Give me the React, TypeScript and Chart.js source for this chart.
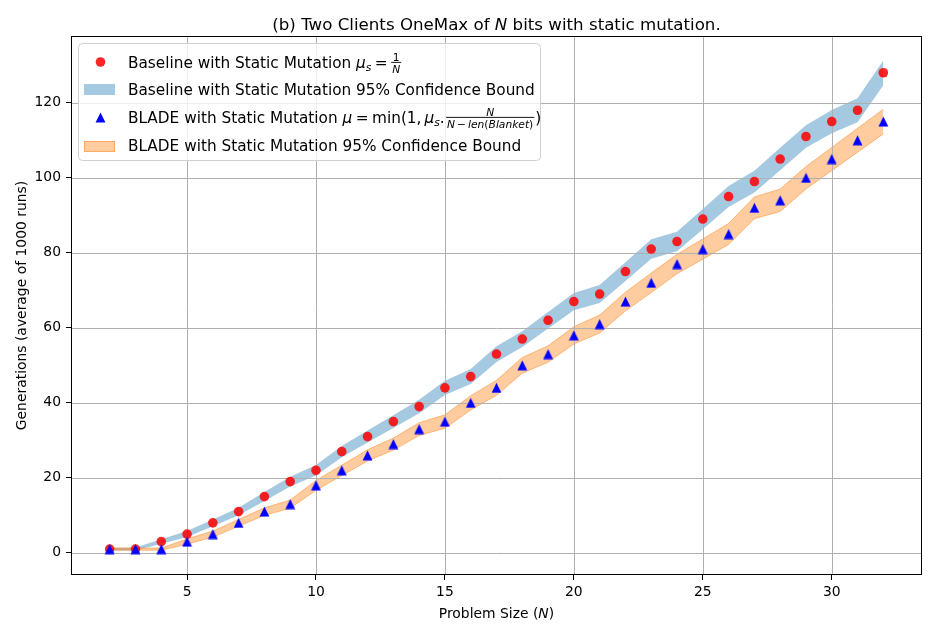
import React, { useEffect, useRef } from "react";
import { Chart, registerables } from "chart.js";

Chart.register(...registerables);

// ---------------- data ----------------
const problemSize = [2, 3, 4, 5, 6, 7, 8, 9, 10, 11, 12, 13, 14, 15, 16, 17, 18, 19, 20, 21, 22, 23, 24, 25, 26, 27, 28, 29, 30, 31, 32];

const baselineMean = [1, 1, 3, 5, 8, 11, 15, 19, 22, 27, 31, 35, 39, 44, 47, 53, 57, 62, 67, 69, 75, 81, 83, 89, 95, 99, 105, 111, 115, 118, 128];
const baselineLower = [0.7, 0.6, 2.4, 4.2, 7.1, 10.0, 13.8, 17.7, 20.6, 25.5, 29.4, 33.3, 37.2, 42.1, 45.0, 50.9, 54.9, 59.8, 64.7, 66.6, 72.5, 78.4, 80.4, 86.3, 92.2, 96.1, 102.0, 108.0, 111.9, 114.8, 124.7];
const baselineUpper = [1.3, 1.4, 3.6, 5.8, 8.9, 12.0, 16.2, 20.3, 23.4, 28.5, 32.6, 36.7, 40.8, 45.9, 49.0, 55.1, 59.1, 64.2, 69.3, 71.4, 77.5, 83.6, 85.6, 91.7, 97.8, 101.9, 108.0, 114.0, 118.1, 121.2, 131.3];

const bladeMean = [1, 1, 1, 3, 5, 8, 11, 13, 18, 22, 26, 29, 33, 35, 40, 44, 50, 53, 58, 61, 67, 72, 77, 81, 85, 92, 94, 100, 105, 110, 115];
const bladeLower = [0.7, 0.7, 0.7, 2.3, 4.2, 7.1, 10.0, 11.9, 16.7, 20.6, 24.5, 27.4, 31.3, 33.2, 38.1, 42.0, 47.9, 50.8, 55.7, 58.6, 64.5, 69.4, 74.4, 78.3, 82.2, 89.1, 91.0, 97.0, 101.9, 106.8, 111.7];
const bladeUpper = [1.3, 1.3, 1.3, 3.7, 5.8, 8.9, 12.0, 14.1, 19.3, 23.4, 27.5, 30.6, 34.7, 36.8, 41.9, 46.0, 52.1, 55.2, 60.3, 63.4, 69.5, 74.6, 79.6, 83.7, 87.8, 94.9, 97.0, 103.0, 108.1, 113.2, 118.3];

const xTicks = [5, 10, 15, 20, 25, 30];
const yTicks = [0, 20, 40, 60, 80, 100, 120];

// ---------------- styles ----------------
const FONT = "'DejaVu Sans', sans-serif";
const RED = "rgba(255,0,0,0.85)";
const BLUE_MARK = "#0000ff";
const BLUE_BAND = "rgba(31,119,180,0.4)";
const ORANGE_BAND = "rgba(255,127,14,0.4)";
const ORANGE_EDGE = "rgba(255,127,14,0.45)";
const GRID = "#b0b0b0";

type Seg = { t?: string; it?: boolean; sz?: number; dy?: number; gap?: number };

function fontOf(s: Seg, base: number) {
  return `${s.it ? "italic " : ""}${s.sz ?? base}px ${FONT}`;
}
function segsWidth(ctx: CanvasRenderingContext2D, segs: Seg[], base: number) {
  let w = 0;
  for (const s of segs) {
    if (s.gap) w += s.gap;
    if (s.t) {
      ctx.font = fontOf(s, base);
      w += ctx.measureText(s.t).width;
    }
  }
  return w;
}
function drawSegs(ctx: CanvasRenderingContext2D, segs: Seg[], x: number, y: number, base: number) {
  ctx.textAlign = "left";
  ctx.textBaseline = "alphabetic";
  for (const s of segs) {
    if (s.gap) x += s.gap;
    if (s.t) {
      ctx.font = fontOf(s, base);
      ctx.fillText(s.t, x, y + (s.dy ?? 0));
      x += ctx.measureText(s.t).width;
    }
  }
  return x;
}
function drawFrac(ctx: CanvasRenderingContext2D, num: Seg[], den: Seg[], x: number, y: number, sz: number) {
  const nw = segsWidth(ctx, num, sz);
  const dw = segsWidth(ctx, den, sz);
  const w = Math.max(nw, dw) + 2;
  drawSegs(ctx, num, x + (w - nw) / 2, y - 6.8, sz);
  drawSegs(ctx, den, x + (w - dw) / 2, y + 5, sz);
  ctx.fillRect(x, y - 5.8, w, 0.9);
  return x + w;
}

function makeTriangle(): HTMLCanvasElement {
  const c = document.createElement("canvas");
  c.width = 11;
  c.height = 11;
  const g = c.getContext("2d")!;
  g.fillStyle = BLUE_MARK;
  g.beginPath();
  g.moveTo(5.5, 0.6);
  g.lineTo(0.6, 10.4);
  g.lineTo(10.4, 10.4);
  g.closePath();
  g.fill();
  return c;
}

export default function App() {
  const ref = useRef<HTMLCanvasElement | null>(null);

  useEffect(() => {
    document.body.style.margin = "0";
    const canvas = ref.current!;
    const tri = makeTriangle();
    const pts = (ys: number[]) => problemSize.map((x, i) => ({ x, y: ys[i] }));

    const decor = {
      id: "decor",
      afterDatasetDraw(chart: any, args: any) {
        if (args.index !== 2) return;
        const { ctx, chartArea: a, scales } = chart;
        ctx.save();
        ctx.strokeStyle = GRID;
        ctx.lineWidth = 1;
        ctx.beginPath();
        for (const v of xTicks) {
          const px = Math.round(scales.x.getPixelForValue(v)) + 0.5;
          ctx.moveTo(px, a.top);
          ctx.lineTo(px, a.bottom);
        }
        for (const v of yTicks) {
          const py = Math.round(scales.y.getPixelForValue(v)) + 0.5;
          ctx.moveTo(a.left, py);
          ctx.lineTo(a.right, py);
        }
        ctx.stroke();
        ctx.restore();
      },
      afterDraw(chart: any) {
        const { ctx, chartArea: a } = chart;
        ctx.save();
        // spines
        ctx.strokeStyle = "#000";
        ctx.lineWidth = 1;
        ctx.strokeRect(Math.round(a.left) + 0.5, Math.round(a.top) + 0.5, Math.round(a.right - a.left) - 1, Math.round(a.bottom - a.top) - 1);
        ctx.fillStyle = "#000";
        const cx = (a.left + a.right) / 2;

        // title
        const title: Seg[] = [{ t: "(b) Two Clients OneMax of " }, { t: "N", it: true }, { t: " bits with static mutation." }];
        const tw = segsWidth(ctx, title, 16.67);
        drawSegs(ctx, title, cx - tw / 2, 30, 16.67);

        // x label
        const xl: Seg[] = [{ t: "Problem Size (" }, { t: "N", it: true }, { t: ")" }];
        const xw = segsWidth(ctx, xl, 13.9);
        drawSegs(ctx, xl, cx - xw / 2, 618, 13.9);

        // y label
        ctx.save();
        ctx.translate(26, (a.top + a.bottom) / 2);
        ctx.rotate(-Math.PI / 2);
        ctx.font = `13.9px ${FONT}`;
        ctx.textAlign = "center";
        ctx.textBaseline = "alphabetic";
        ctx.fillText("Generations (average of 1000 runs)", 0, 0);
        ctx.restore();

        // legend box
        ctx.beginPath();
        ctx.roundRect(78.5, 43.5, 462, 117, 4);
        ctx.fillStyle = "rgba(255,255,255,0.8)";
        ctx.fill();
        ctx.strokeStyle = "#d0d0d0";
        ctx.stroke();

        // handles
        ctx.fillStyle = RED;
        ctx.beginPath();
        ctx.arc(100.5, 62, 4.8, 0, Math.PI * 2);
        ctx.fill();
        ctx.fillStyle = BLUE_BAND;
        ctx.fillRect(84, 84, 31, 11);
        ctx.drawImage(tri, 100.5 - tri.width / 2, 117.5 - tri.height / 2);
        ctx.fillStyle = ORANGE_BAND;
        ctx.fillRect(84, 141, 31, 11);
        ctx.strokeStyle = ORANGE_EDGE;
        ctx.strokeRect(84.5, 141.5, 30, 10);

        // legend texts
        ctx.fillStyle = "#000";
        const L = 15.3;
        const S = 10.7;
        let x = drawSegs(ctx, [{ t: "Baseline with Static Mutation " }, { t: "μ", it: true }, { t: "s", it: true, sz: S, dy: 3 }, { gap: 3.5, t: "=" }], 128, 67.7, L);
        drawFrac(ctx, [{ t: "1" }], [{ t: "N", it: true }], x + 3.5, 67.7, S);

        drawSegs(ctx, [{ t: "Baseline with Static Mutation 95% Confidence Bound" }], 128, 95, L);

        x = drawSegs(ctx, [
          { t: "BLADE with Static Mutation " }, { t: "μ", it: true }, { gap: 3.5, t: "=" }, { gap: 3.5, t: "min(1," },
          { gap: 3, t: "μ", it: true }, { t: "s", it: true, sz: S, dy: 3 }, { t: "." },
        ], 128, 122.7, L);
        x = drawFrac(ctx, [{ t: "N", it: true }], [
          { t: "N", it: true }, { gap: 2, t: "−" }, { gap: 2, t: "len", it: true }, { t: "(" }, { t: "Blanket", it: true }, { t: ")" },
        ], x + 1.5, 122.7, S);
        drawSegs(ctx, [{ gap: 1, t: ")" }], x, 122.7, L);

        drawSegs(ctx, [{ t: "BLADE with Static Mutation 95% Confidence Bound" }], 128, 151, L);
        ctx.restore();
      },
    };

    const tickFont = { family: FONT, size: 13.9 };

    const chart = new Chart(canvas, {
      type: "line",
      data: {
        datasets: [
          { label: "blade", data: pts(bladeMean), showLine: false, pointStyle: tri as any, pointRadius: 5, order: 0, borderColor: BLUE_MARK, backgroundColor: BLUE_MARK },
          { label: "base", data: pts(baselineMean), showLine: false, pointStyle: "circle", pointRadius: 4.8, pointBorderWidth: 0, pointBackgroundColor: RED, pointBorderColor: RED, order: 1 },
          { label: "bladeHi", data: pts(bladeUpper), pointRadius: 0, borderWidth: 1, borderColor: ORANGE_EDGE, backgroundColor: ORANGE_BAND, fill: "+1", order: 2 },
          { label: "bladeLo", data: pts(bladeLower), pointRadius: 0, borderWidth: 1, borderColor: ORANGE_EDGE, fill: false, order: 3 },
          { label: "baseHi", data: pts(baselineUpper), pointRadius: 0, borderWidth: 0, borderColor: "transparent", backgroundColor: BLUE_BAND, fill: "+1", order: 4 },
          { label: "baseLo", data: pts(baselineLower), pointRadius: 0, borderWidth: 0, borderColor: "transparent", fill: false, order: 5 },
        ] as any,
      },
      options: {
        responsive: false,
        animation: false,
        events: [],
        layout: { padding: { top: 36, right: 17, left: 0, bottom: 0 } },
        elements: { line: { tension: 0 } },
        plugins: { legend: { display: false }, title: { display: false }, tooltip: { enabled: false } },
        scales: {
          x: {
            type: "linear",
            min: 0.5,
            max: 33.5,
            afterBuildTicks: (s: any) => { s.ticks = xTicks.map((v) => ({ value: v })); },
            afterFit: (s: any) => { s.height = 55; },
            grid: { drawOnChartArea: false, drawTicks: true, tickLength: 5, tickColor: "#000", tickWidth: 1 },
            border: { display: false },
            ticks: { font: tickFont, color: "#000", padding: 4, maxRotation: 0, autoSkip: false },
          },
          y: {
            type: "linear",
            min: -5.9,
            max: 137.8,
            afterBuildTicks: (s: any) => { s.ticks = yTicks.map((v) => ({ value: v })); },
            afterFit: (s: any) => { s.width = 71; },
            grid: { drawOnChartArea: false, drawTicks: true, tickLength: 5, tickColor: "#000", tickWidth: 1 },
            border: { display: false },
            ticks: { font: tickFont, color: "#000", padding: 5, autoSkip: false },
          },
        },
      } as any,
      plugins: [decor],
    });
    return () => chart.destroy();
  }, []);

  return <canvas ref={ref} width={939} height={630} style={{ display: "block", width: 939, height: 630 }} />;
}
